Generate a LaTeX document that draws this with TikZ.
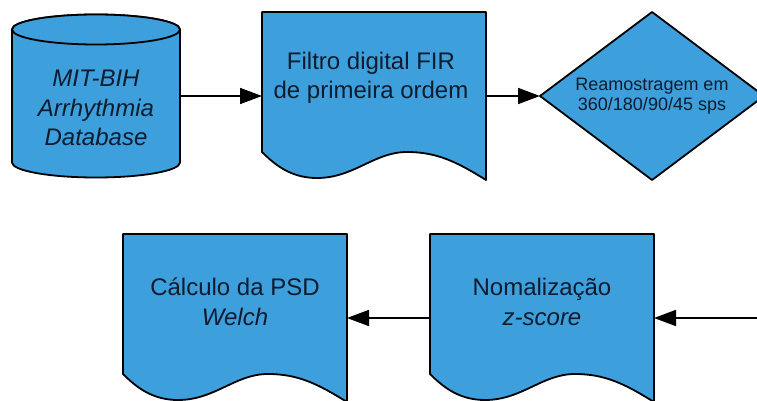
\documentclass[tikz,border=0pt]{standalone}
\usepackage{fontspec}
\setmainfont{Liberation Sans}
\usetikzlibrary{arrows.meta}
\definecolor{boxblue}{RGB}{61,159,219}
\definecolor{txt}{RGB}{15,28,48}
\begin{document}
\begin{tikzpicture}[x=1pt,y=1pt,
  shapeline/.style={fill=boxblue, draw=black, line width=1.8pt, line join=round},
  lbl/.style={text=txt, align=center, font=\fontsize{24}{29.5}\selectfont, inner sep=0},
  smalllbl/.style={text=txt, align=center, font=\fontsize{18}{20.5}\selectfont, inner sep=0},
  docbox/.style={rectangle, minimum width=224pt, minimum height=168pt, inner sep=0, outer sep=0,
    append after command={\pgfextra{\draw[shapeline, shift={(\tikzlastnode.south west)}]
      (0,168) -- (224,168) -- (224,0)
      .. controls (195,18) and (175,28) .. (145,28)
      .. controls (112,28) and (92,2) .. (55,2)
      .. controls (30,2) and (14,14) .. (0,28) -- cycle;}}},
  diabox/.style={rectangle, minimum width=224pt, minimum height=168pt, inner sep=0, outer sep=0,
    append after command={\pgfextra{\draw[shapeline]
      (\tikzlastnode.west) -- (\tikzlastnode.north) -- (\tikzlastnode.east) -- (\tikzlastnode.south) -- cycle;}}},
  cylbox/.style={rectangle, minimum width=168pt, minimum height=163pt, inner sep=0, outer sep=0,
    append after command={\pgfextra{\draw[shapeline, shift={(\tikzlastnode.south west)}]
      (0,148) -- (0,15) arc[start angle=180,end angle=360,x radius=84pt,y radius=15pt]
      -- (168,148) arc[start angle=0,end angle=180,x radius=84pt,y radius=15pt] -- cycle;
      \draw[shapeline, shift={(\tikzlastnode.south west)}] (84,148) ellipse[x radius=84pt, y radius=15pt];}}},
  conn/.style={draw=black, line width=1.8pt, -{Triangle[length=22pt,width=16pt]}}
]
\useasboundingbox (0,0) rectangle (757,-401);

\node[cylbox, label={[lbl,yshift=-12pt]center:{\textit{MIT-BIH}\\\textit{Arrhythmia}\\\textit{Database}}}] (db) at (96,-96) {};
\node[docbox, label={[lbl,yshift=18pt,xshift=-3pt]center:{Filtro digital FIR\\de primeira ordem}}] (fir) at (374,-96) {};
\node[diabox, label={[smalllbl]center:{Reamostragem em\\360/180/90/45 sps}}] (rs) at (652,-96) {};

\node[docbox, label={[lbl,yshift=16pt]center:{Cálculo da PSD\\\textit{Welch}}}] (psd) at (235,-318) {};
\node[docbox, label={[lbl,yshift=16pt]center:{Nomalização\\\textit{z-score}}}] (nz) at (542,-318) {};
\coordinate (in) at (762,-318);

\draw[conn] (db.east) -- (fir.west);
\draw[conn] (fir.east) -- (rs.west);
\draw[conn] (in) -- (nz.east);
\draw[conn] (nz.west) -- (psd.east);
\end{tikzpicture}
\end{document}
